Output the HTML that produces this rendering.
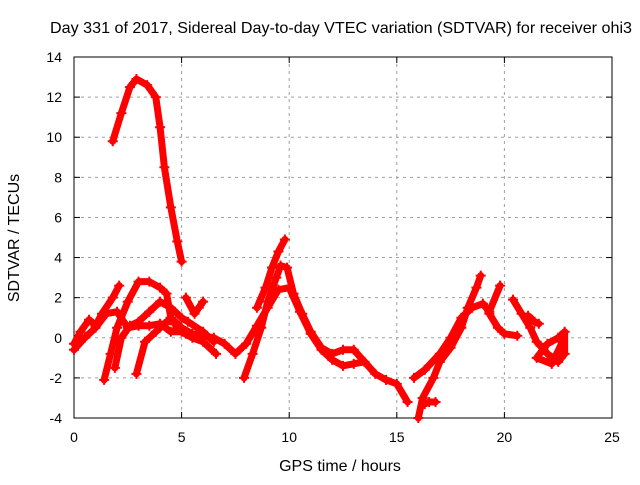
<!DOCTYPE html>
<html><head><meta charset="utf-8"><style>
body{margin:0;background:#fff}
svg text{font-family:"Liberation Sans",sans-serif;font-size:14px;fill:#000}
svg text.big{font-size:16px}
</style></head><body>
<svg id="c" width="640" height="480">
<rect width="640" height="480" fill="#fff"/>
<g id="grid"></g><g id="axes"></g><g id="data"></g>
<text class="big" x="341" y="33" text-anchor="middle" textLength="582" lengthAdjust="spacingAndGlyphs">Day 331 of 2017, Sidereal Day-to-day VTEC variation (SDTVAR) for receiver ohi3</text>
<text class="big" x="340" y="471" text-anchor="middle">GPS time / hours</text>
<text class="big" x="19" y="238" text-anchor="middle" transform="rotate(-90 19 238)">SDTVAR / TECUs</text>
</svg>
<script>
const xTicks=[0,5,10,15,20,25];
const yTicks=[-4,-2,0,2,4,6,8,10,12,14];
const trackA=[[1.8,9.8],[2.2,11.2],[2.6,12.5],[2.9,12.9],[3.4,12.6],[3.8,12],[4.0,10.5],[4.2,8.5],[4.5,6.5],[4.8,4.8],[5.0,3.8]];
const trackB=[[0,-0.3],[0.3,0.3],[0.7,0.9],[1.0,0.6],[1.3,1.2],[1.8,2.0],[2.1,2.6]];
const trackC=[[1.4,-2.1],[1.7,-0.8],[2.0,0.5],[2.5,1.8],[3.0,2.8],[3.5,2.8],[4.0,2.5],[4.3,2.2],[4.5,1],[4.8,0.5],[5.2,0.2]];
const trackD=[[1.9,-1.5],[2.2,0],[2.6,0.6],[3.0,0.8],[3.5,1.3],[4.0,1.8],[4.5,1.5],[5.0,1.0],[5.3,0.8],[6.0,0.3],[6.5,-0.2]];
const trackE=[[2.9,-1.8],[3.3,-0.2],[3.8,0.3],[4.3,0.8],[4.7,0.8],[5,0.5],[5.5,0.2],[6,0.1],[6.5,0],[7,-0.3],[7.5,-0.8],[8,-0.3],[8.5,0.6],[9,1.5],[9.5,2.4],[10,2.5],[10.5,1.3],[11,0.2],[11.5,-0.6],[12,-1.1],[12.5,-1.4],[13,-1.3],[13.5,-1.2],[14,-1.8],[14.5,-2.1],[15,-2.3],[15.5,-3.2]];
const trackF=[[0,-0.6],[0.5,0],[1,0.5],[1.5,1.2],[2,1.3],[2.5,0.5],[3,0.6],[3.5,0.6],[4,0.7],[4.5,0.3],[5,0.3],[5.5,0],[6,-0.2],[6.6,-0.8]];
const trackG=[[7.9,-2],[8.3,-0.8],[8.7,0.5],[9.0,1.8],[9.4,3],[9.6,3.6],[9.9,3.5],[10.2,2.2],[10.6,1.2],[11,0.3],[11.5,-0.5],[12,-0.8],[12.5,-0.6],[13,-0.6],[13.5,-1.2]];
const trackH=[[8.5,1.5],[8.9,2.5],[9.2,3.5],[9.5,4.3],[9.8,4.9]];
const trackI=[[5.2,2.0],[5.6,1.2],[5.8,1.5],[6.0,1.8]];
const trackJ=[[16,-4],[16.2,-3],[16.7,-2],[17,-1.2],[17.5,-0.5],[18,0.5],[18.3,1.5],[18.7,2.5],[18.9,3.1]];
const trackK=[[15.8,-2.0],[16.3,-1.6],[17,-0.8],[17.5,0],[18,1],[18.5,1.5],[19,1.7],[19.3,1.3],[19.8,2.6]];
const trackL=[[16.3,-3.3],[16.5,-3.2],[16.8,-3.2]];
const trackM=[[19.3,1.2],[19.7,0.5],[20,0.2],[20.6,0.1]];
const trackN=[[20.4,1.9],[20.8,1.2],[21.2,0.5],[21.5,-0.2],[22,-0.8],[22.5,-1.2],[22.8,-0.8],[22.8,0.3],[22.5,0],[22,-0.3],[21.5,-1],[22.2,-1.3],[22.7,-0.2]];
const trackO=[[21.1,1.1],[21.4,0.8],[21.6,0.7]];
const tracks=[trackA,trackB,trackC,trackD,trackE,trackF,trackG,trackH,trackI,trackJ,trackK,trackL,trackM,trackN,trackO];
const NS='http://www.w3.org/2000/svg';
const X0=74,X1=612,Y0=418,Y1=57;
function sx(t){return X0+(t-0)/25*(X1-X0);}
function sy(v){return Y0-(v+4)/18*(Y0-Y1);}
function mk(tag,at,p){const e=document.createElementNS(NS,tag);for(const k in at)e.setAttribute(k,at[k]);p.appendChild(e);return e;}
const grid=document.getElementById('grid'),axes=document.getElementById('axes'),data=document.getElementById('data');
xTicks.forEach(t=>{
  if(t>0&&t<25){const l=mk('line',{x1:sx(t),x2:sx(t),y1:Y1,y2:Y0,stroke:'#a0a0a0','stroke-dasharray':'3,4'},grid);
  
  }
  mk('line',{x1:sx(t),x2:sx(t),y1:Y0,y2:Y0-6,stroke:'#000'},axes);
  mk('line',{x1:sx(t),x2:sx(t),y1:Y1,y2:Y1+6,stroke:'#000'},axes);
  const tx=mk('text',{x:sx(t),y:Y0+24,'text-anchor':'middle'},axes);tx.textContent=t;
  
  
});
yTicks.forEach(v=>{
  if(v>-4&&v<14){const l=mk('line',{x1:X0,x2:X1,y1:sy(v),y2:sy(v),stroke:'#a0a0a0','stroke-dasharray':'3,4'},grid);
  
  }
  mk('line',{x1:X0,x2:X0+6,y1:sy(v),y2:sy(v),stroke:'#000'},axes);
  mk('line',{x1:X1,x2:X1-6,y1:sy(v),y2:sy(v),stroke:'#000'},axes);
  const tx=mk('text',{x:X0-12,y:sy(v)+5,'text-anchor':'end'},axes);tx.textContent=v;
  
  
});
const fr=mk('rect',{x:X0,y:Y1,width:X1-X0,height:Y0-Y1,fill:'none',stroke:'#000'},axes);


tracks.forEach(tr=>{
  const pl=mk('polyline',{points:tr.map(p=>sx(p[0])+','+sy(p[1])).join(' '),fill:'none',stroke:'#f00','stroke-width':7,'stroke-linejoin':'round','stroke-linecap':'round'},data);
  
  
  tr.forEach(p=>{
    const x=sx(p[0]),y=sy(p[1]);
    const m=mk('path',{d:`M${x-5},${y}H${x+5}M${x},${y-5}V${y+5}`,stroke:'#f00','stroke-width':2},data);
    
    
  });
});
</script>
</body></html>
